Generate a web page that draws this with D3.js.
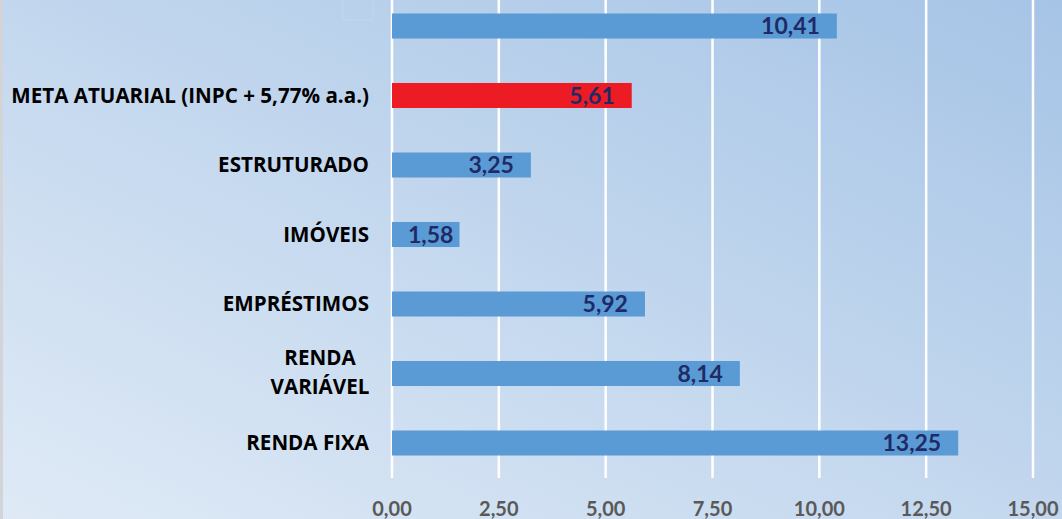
<!DOCTYPE html>
<html>
<head>
<meta charset="utf-8">
<script src="https://cdn.jsdelivr.net/npm/d3@7"></script>
<style>
  html, body { margin: 0; padding: 0; overflow: hidden; }
  svg { display: block; }
</style>
</head>
<body>
<div id="chart"></div>
<script>
// data, top to bottom
var categories = ["", "META ATUARIAL (INPC + 5,77% a.a.)", "ESTRUTURADO", "IMÓVEIS", "EMPRÉSTIMOS", "RENDA VARIÁVEL", "RENDA FIXA"];
var values = [10.41, 5.61, 3.25, 1.58, 5.92, 8.14, 13.25];
var highlight = [false, true, false, false, false, false, false];
var ticks = [0, 2.5, 5, 7.5, 10, 12.5, 15];

var W = 1062, H = 519;
var fmt = function(v) { return d3.format(".2f")(v).replace(".", ","); };

var svg = d3.select("#chart").append("svg").attr("width", W).attr("height", H);

// background gradient
var defs = svg.append("defs");
var grad = defs.append("linearGradient").attr("id", "bg")
  .attr("x1", "0%").attr("y1", "100%").attr("x2", "100%").attr("y2", "0%");
grad.append("stop").attr("offset", "0%").attr("stop-color", "#dfeaf6");
grad.append("stop").attr("offset", "100%").attr("stop-color", "#a6c4e6");

svg.append("rect").attr("width", W).attr("height", H).style("fill", "url(#bg)");
svg.append("rect").attr("x", 0).attr("y", 0).attr("width", 3).attr("height", H).style("fill", "#d2d4d8");
svg.append("rect").attr("x", 343).attr("y", -1).attr("width", 30).attr("height", 21)
  .style("fill", "none").style("stroke", "rgba(255,255,255,0.15)").style("stroke-width", 1);

var x = d3.scaleLinear().domain([0, 15]).range([392, 1033]);
var y = d3.scaleBand().domain(categories).range([-8.75, 477.75]).paddingInner(0.64).paddingOuter(0.32);

// gridlines
svg.append("g").selectAll("line").data(ticks).enter().append("line")
  .attr("x1", function(d) { return x(d); }).attr("x2", function(d) { return x(d); })
  .attr("y1", 0).attr("y2", 478)
  .style("stroke", "#fff").style("stroke-width", 2.5);

// bars
svg.append("g").selectAll("rect").data(values).enter().append("rect")
  .attr("x", x(0))
  .attr("y", function(d, i) { return y(categories[i]); })
  .attr("width", function(d) { return x(d) - x(0); })
  .attr("height", y.bandwidth())
  .style("fill", function(d, i) { return highlight[i] ? "#ed1c24" : "#5b9bd5"; });

// value labels
svg.append("g").selectAll("text").data(values).enter().append("text")
  .attr("y", function(d, i) { return y(categories[i]) + y.bandwidth() / 2; })
  .attr("dy", "0.36em")
  .style("font-family", "Lato, 'Open Sans', sans-serif").style("font-weight", "bold")
  .style("font-size", "23px").style("fill", "#1f2a66")
  .text(fmt)
  .each(function(d) {
    var t = d3.select(this), w = this.getComputedTextLength();
    var end = x(d) - 17;
    if (end - w < x(0) + 16) end = x(0) + 16 + w;
    t.attr("x", end).attr("text-anchor", "end");
  });

// category labels
var cat = svg.append("g").selectAll("text").data(categories).enter().append("text")
  .attr("y", function(d) { return y(d) + y.bandwidth() / 2; })
  .style("font-family", "'Open Sans', Lato, sans-serif").style("font-weight", "bold")
  .style("font-size", "20.6px").style("fill", "#000");
cat.each(function(d) {
  var t = d3.select(this);
  if (d == "RENDA VARIÁVEL") {
    t.attr("text-anchor", "middle").attr("x", 320);
    t.append("tspan").attr("x", 320).attr("dy", "-0.4em").text("RENDA");
    t.append("tspan").attr("x", 320).attr("dy", "1.4em").text("VARIÁVEL");
  } else {
    t.attr("text-anchor", "end").attr("x", 369).attr("dy", "0.36em").text(d);
  }
});

// x axis labels
svg.append("g").selectAll("text").data(ticks).enter().append("text")
  .attr("x", function(d) { return x(d); }).attr("y", 516)
  .attr("text-anchor", "middle")
  .style("font-family", "Lato, 'Open Sans', sans-serif").style("font-weight", "bold")
  .style("font-size", "20px").style("fill", "#595959")
  .text(fmt);
</script>
</body>
</html>
